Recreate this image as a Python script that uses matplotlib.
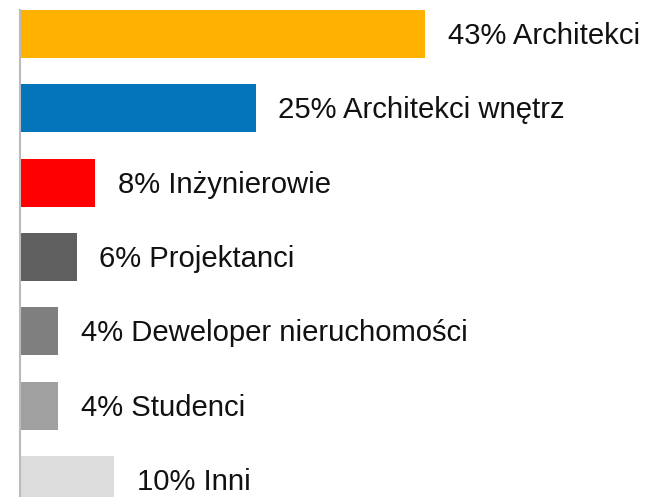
import matplotlib
matplotlib.use("Agg")
import matplotlib.pyplot as plt

# --- dane ---
categories = ["Architekci", "Architekci wnętrz", "Inżynierowie", "Projektanci",
              "Deweloper nieruchomości", "Studenci", "Inni"]
values = [43, 25, 8, 6, 4, 4, 10]
colors = ["#FFB000", "#0373BA", "#FF0000", "#5F5F5F", "#7F7F7F", "#A0A0A0", "#DCDCDC"]

W, H = 646, 497
fig = plt.figure(figsize=(W / 100, H / 100), dpi=100)
# oś zaczyna się na x=20 px, od y=10 px w dół
ax = fig.add_axes([20 / W, 0, (W - 20) / W, (H - 10) / H])

px_per_unit = 9.42
pitch = 74.3
ax.set_xlim(0, (W - 20) / px_per_unit)
ax.set_ylim((H - 10 - 24) / pitch, -24 / pitch)

ypos = list(range(len(values)))
ax.barh(ypos, values, height=48 / pitch, color=colors, zorder=2)

for y, v, name in zip(ypos, values, categories):
    ax.annotate(f"{v}% {name}", xy=(v, y), xytext=(16.5, -1.5), textcoords="offset points",
                va="center", ha="left", fontsize=21.1, family="Liberation Sans",
                color="#111111")

for side in ["top", "right", "bottom"]:
    ax.spines[side].set_visible(False)
ax.spines["left"].set_color("#BBBBBB")
ax.spines["left"].set_linewidth(1.5)
ax.set_xticks([])
ax.set_yticks([])

fig.savefig("out.png", dpi=100)
